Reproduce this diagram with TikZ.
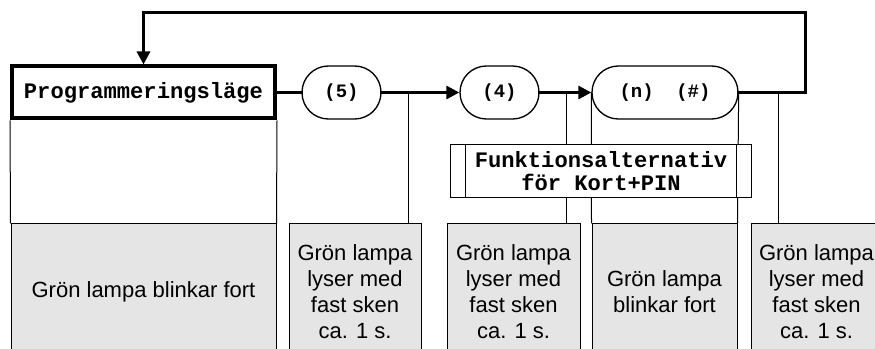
\documentclass[tikz,border=0pt]{standalone}
\usepackage{fontspec}
\setmainfont{Liberation Sans}
\newfontfamily\codefont{Liberation Mono}
\usetikzlibrary{arrows.meta,backgrounds}

\tikzset{
  flow/.style={line width=2.25pt,line cap=rect},
  flowarrow/.style={flow,-{Triangle[length=9.75pt,width=9.75pt]}},
  thinline/.style={line width=0.75pt},
  pill/.style={draw,line width=1pt,fill=white,rounded corners=19.8pt,minimum height=39.75pt,inner sep=0pt,
    font=\codefont\bfseries\fontsize{14.2}{16}\selectfont},
  lampbox/.style={draw,line width=0.75pt,fill=black!10,minimum height=102pt,inner sep=0pt,align=center,
    font=\fontsize{16.5}{19.5}\selectfont}
}

\begin{document}
\begin{tikzpicture}[line join=miter,x=0.75pt,y=-0.75pt]
\clip (0,0) rectangle (875,349);
\useasboundingbox (0,0) rectangle (875,349);

% states
\node[draw,line width=3pt,fill=white,minimum width=197.25pt,minimum height=39pt,inner sep=0pt,
  font=\codefont\bfseries\fontsize{16.6}{18}\selectfont] (prog) at (143.5,92.5) {Programmeringsläge};
\node[pill,minimum width=59.25pt] (n5) at (341.5,92.5) {(5)};
\node[pill,minimum width=59.25pt] (n4) at (499.5,92.5) {(4)};
\node[pill,minimum width=109.5pt] (nn) at (665,92.5) {(n)\ \ (\#)};

\node[draw,line width=0.75pt,fill=white,minimum width=225.75pt,minimum height=39.75pt,inner sep=0pt,align=center,
  font=\codefont\bfseries\fontsize{16.6}{17.3}\selectfont] (fa) at (601,171.5) {Funktionsalternativ\\för Kort+PIN};
\draw[thinline] ([xshift=11.25pt]fa.north west) -- ([xshift=11.25pt]fa.south west);
\draw[thinline] ([xshift=-12pt]fa.north east) -- ([xshift=-12pt]fa.south east);

% lamp signals
\node[lampbox,minimum width=198.75pt] (g1) at (143.5,292) {Grön lampa blinkar fort};
\node[lampbox,minimum width=99pt] (g2) at (355,292) {Grön lampa\\lyser med\\fast sken\\ca. 1 s.};
\node[lampbox,minimum width=99.75pt] (g3) at (513.5,292) {Grön lampa\\lyser med\\fast sken\\ca. 1 s.};
\node[lampbox,minimum width=108.75pt] (g4) at (664.5,292) {Grön lampa\\blinkar fort};
\node[lampbox,minimum width=98.25pt] (g5) at (816.5,292) {Grön lampa\\lyser med\\fast sken\\ca. 1 s.};

\coordinate (t2) at (408,92.5);
\coordinate (t3) at (566,92.5);
\coordinate (t5) at (778,92.5);
\coordinate (loop) at (805,13);

\begin{scope}[on background layer]
\draw[thinline] (prog.south west) -- (g1.north west);
\draw[thinline] (prog.south east) -- (g1.north east);
\draw[thinline] (t2) -- (t2 |- g2.north);
\draw[thinline] (t3) -- (t3 |- g3.north);
\draw[thinline] (nn.west) -- (g4.north west);
\draw[thinline] (nn.east) -- (g4.north east);
\draw[thinline] (t5) -- (t5 |- g5.north);
\end{scope}

\draw[flow] (prog.east) -- (n5.west);
\draw[flowarrow] (n5.east) -- (n4.west);
\draw[flowarrow] (n4.east) -- (nn.west);
\draw[flowarrow] (nn.east) -| (loop) -| (prog.north);
\end{tikzpicture}
\end{document}
